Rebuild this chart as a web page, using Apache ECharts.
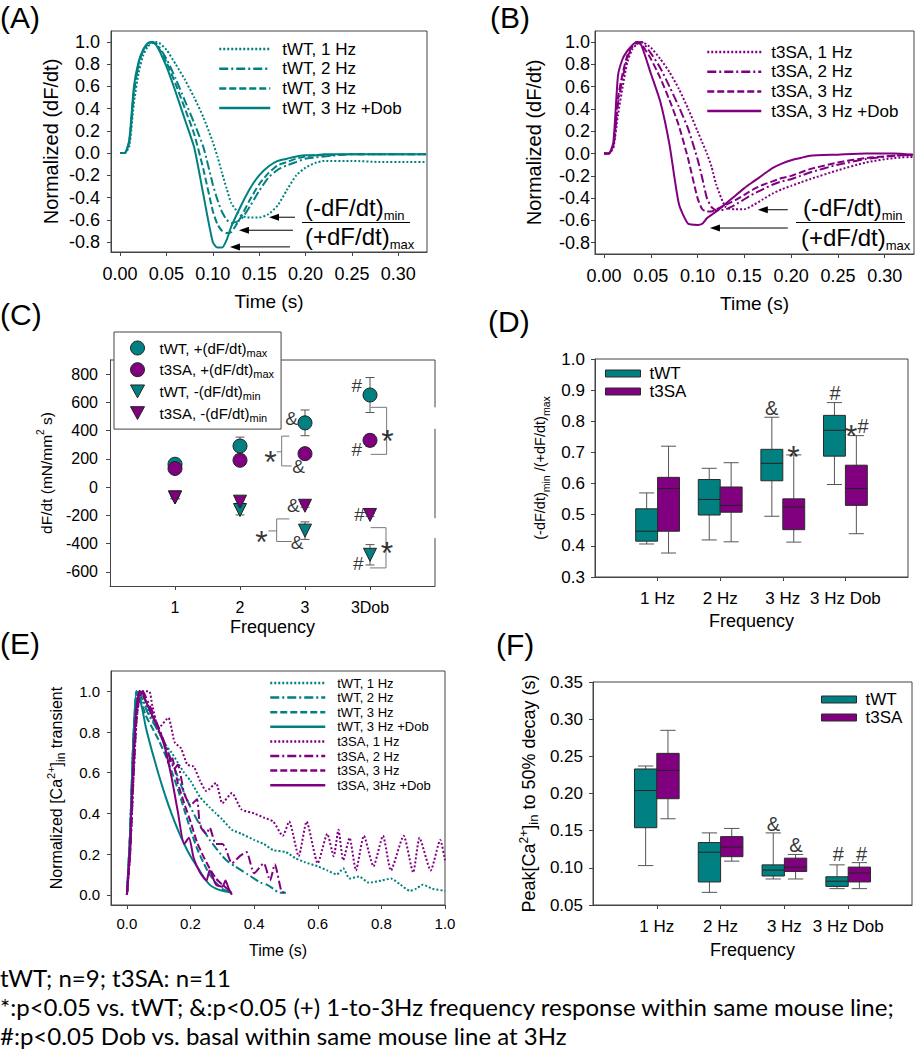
<!DOCTYPE html>
<html>
<head>
<meta charset="utf-8">
<script src="https://cdn.jsdelivr.net/npm/echarts@6/dist/echarts.min.js"></script>
<style>
html, body { margin: 0; padding: 0; background: #fff; }
#chart { width: 916px; height: 1050px; }
</style>
</head>
<body>
<div id="chart"></div>
<script>
// ---- data ----
// (A)/(B) normalized dF/dt, shared time base (s)
var tAB = [0, 0.005, 0.01, 0.015, 0.02, 0.025, 0.03, 0.035, 0.04, 0.05, 0.06, 0.07, 0.08, 0.09, 0.10, 0.105, 0.11, 0.115, 0.12, 0.13, 0.14, 0.15, 0.16, 0.17, 0.18, 0.19, 0.20, 0.21, 0.22, 0.25, 0.28, 0.31, 0.33];
var aWT1 = [0, 0, 0.06, 0.45, 0.72, 0.88, 0.96, 0.99, 1.0, 0.93, 0.80, 0.66, 0.50, 0.32, 0.10, -0.03, -0.18, -0.32, -0.45, -0.56, -0.58, -0.58, -0.55, -0.47, -0.33, -0.20, -0.13, -0.09, -0.07, -0.07, -0.08, -0.08, -0.08];
var aWT2 = [0, 0, 0.1, 0.55, 0.8, 0.92, 0.98, 1.0, 0.98, 0.85, 0.67, 0.47, 0.27, 0.05, -0.28, -0.42, -0.53, -0.60, -0.63, -0.60, -0.48, -0.34, -0.22, -0.15, -0.11, -0.08, -0.05, -0.04, -0.03, -0.01, -0.01, -0.01, -0.01];
var aWT3 = [0, 0, 0.1, 0.55, 0.8, 0.93, 0.98, 1.0, 0.97, 0.82, 0.62, 0.40, 0.17, -0.15, -0.52, -0.64, -0.70, -0.72, -0.71, -0.58, -0.42, -0.28, -0.18, -0.11, -0.08, -0.05, -0.03, -0.02, -0.02, -0.01, -0.01, -0.01, -0.01];
var aWTDob = [0, 0, 0.12, 0.6, 0.82, 0.93, 0.99, 1.0, 0.96, 0.78, 0.55, 0.30, 0.05, -0.38, -0.80, -0.85, -0.85, -0.78, -0.66, -0.48, -0.32, -0.20, -0.12, -0.07, -0.05, -0.03, -0.02, -0.02, -0.01, -0.01, -0.01, -0.01, -0.01];
var bSA1 = [0, 0, 0.05, 0.35, 0.6, 0.82, 0.93, 0.98, 1.0, 0.95, 0.85, 0.73, 0.58, 0.40, 0.20, 0.10, 0.0, -0.12, -0.28, -0.48, -0.50, -0.50, -0.46, -0.41, -0.36, -0.32, -0.29, -0.26, -0.23, -0.15, -0.08, -0.04, -0.03];
var bSA2 = [0, 0, 0.06, 0.45, 0.68, 0.86, 0.95, 0.99, 1.0, 0.9, 0.77, 0.6, 0.42, 0.22, -0.05, -0.22, -0.40, -0.48, -0.51, -0.50, -0.46, -0.41, -0.36, -0.32, -0.28, -0.25, -0.23, -0.20, -0.17, -0.10, -0.05, -0.02, -0.01];
var bSA3 = [0, 0, 0.07, 0.5, 0.72, 0.88, 0.96, 1.0, 0.98, 0.85, 0.68, 0.48, 0.25, -0.05, -0.40, -0.50, -0.52, -0.52, -0.50, -0.46, -0.42, -0.37, -0.32, -0.28, -0.25, -0.22, -0.20, -0.17, -0.14, -0.08, -0.04, -0.02, -0.01];
var bSADob = [0, 0, 0.1, 0.7, 0.85, 0.92, 0.97, 1.0, 0.97, 0.72, 0.47, 0.08, -0.45, -0.63, -0.64, -0.63, -0.58, -0.55, -0.52, -0.45, -0.38, -0.31, -0.25, -0.19, -0.13, -0.09, -0.06, -0.04, -0.02, -0.01, 0, 0, -0.01];
// arrows in A/B: [tail time, value, tip time]
var arrowsA = [[0.1886, -0.577, 0.1606], [0.1864, -0.694, 0.1282], [0.1832, -0.844, 0.1185]];
var arrowsB = [[0.1964, -0.504, 0.1644], [0.1964, -0.668, 0.1132]];

// (C) dF/dt vs frequency
var cLabels = ['1', '2', '3', '3Dob'];
var wtMax = [162, 291, 455, 652];
var wtMaxErr = [15, 63, 91, 124];
var saMax = [132, 190, 237, 331];
var saMaxErr = [12, 15, 20, 42];
var wtMin = [-73, -162, -308, -479];
var wtMinErr = [10, 35, 62, 72];
var saMin = [-73, -103, -132, -197];
var saMinErr = [8, 10, 10, 10];
var cNotes = [[2.795, 485, '&'], [2.47, 248, '*'], [2.90, 143, '&'], [2.82, -127, '&'], [2.33, -315, '*'], [2.88, -389, '&'],
  [3.795, 718, '#'], [4.27, 394, '*'], [3.795, 265, '#'], [3.84, -197, '#'], [4.26, -396, '*'], [3.82, -544, '#']];
var cBrackets = [
  [[2.76, 361], [2.641, 361], [2.641, 150], [2.795, 150]], [[2.564, 250], [2.641, 250]],
  [[2.76, -225], [2.564, -225], [2.564, -385], [2.795, -385]], [[2.436, -310], [2.564, -310]],
  [[4.01, 565], [4.256, 565], [4.256, 232], [4.01, 232]],
  [[4.01, -287], [4.246, -287], [4.246, -572], [4.0, -572]]
];
var cFrame = [[[0, 900], [5, 900]], [[5, 900], [5, 565]], [[5, 413], [5, -220]], [[5, -361], [5, -700]]];

// (D) ratio box plots: [min, q1, median, q3, max]
var boxLabels = ['1 Hz', '2 Hz', '3 Hz', '3 Hz Dob'];
var dWT = [[0.406, 0.415, 0.447, 0.519, 0.570], [0.419, 0.499, 0.549, 0.613, 0.649], [0.495, 0.609, 0.665, 0.710, 0.813], [0.597, 0.688, 0.771, 0.819, 0.860]];
var dSA = [[0.377, 0.447, 0.584, 0.620, 0.720], [0.413, 0.508, 0.530, 0.589, 0.667], [0.412, 0.452, 0.525, 0.551, 0.692], [0.439, 0.530, 0.584, 0.659, 0.754]];
var dNotes = [[2.824, 0.844, '&'], [3.169, 0.718, '*'], [3.834, 0.890, '#'], [4.094, 0.785, '*'], [4.281, 0.785, '#']];

// (E) normalized Ca transients, [time, value]
var eWT1 = [[0, 0], [0.01, 0.3], [0.02, 0.75], [0.03, 0.97], [0.04, 1.0], [0.05, 0.96], [0.07, 0.9], [0.10, 0.8], [0.12, 0.74], [0.14, 0.7], [0.16, 0.65], [0.18, 0.6], [0.20, 0.56], [0.23, 0.48], [0.26, 0.43], [0.28, 0.40], [0.30, 0.37], [0.33, 0.32], [0.36, 0.30], [0.40, 0.27], [0.43, 0.25], [0.46, 0.22], [0.50, 0.21], [0.53, 0.18], [0.56, 0.16], [0.60, 0.14], [0.63, 0.12], [0.66, 0.10], [0.68, 0.13], [0.70, 0.08], [0.73, 0.09], [0.76, 0.06], [0.80, 0.07], [0.83, 0.08], [0.86, 0.05], [0.89, 0.02], [0.91, 0.03], [0.93, 0.05], [0.96, 0.03], [1.0, 0.02]];
var eWT2 = [[0, 0], [0.01, 0.3], [0.02, 0.75], [0.03, 0.98], [0.04, 1.0], [0.05, 0.95], [0.07, 0.88], [0.10, 0.80], [0.12, 0.74], [0.14, 0.66], [0.16, 0.58], [0.18, 0.50], [0.20, 0.43], [0.22, 0.37], [0.24, 0.32], [0.26, 0.27], [0.28, 0.23], [0.30, 0.19], [0.32, 0.16], [0.34, 0.14], [0.36, 0.12], [0.38, 0.10], [0.40, 0.08], [0.42, 0.06], [0.44, 0.05], [0.46, 0.03], [0.48, 0.01], [0.50, 0.01]];
var eWT3 = [[0, 0], [0.01, 0.3], [0.02, 0.75], [0.03, 1.0], [0.04, 0.97], [0.06, 0.88], [0.08, 0.82], [0.10, 0.76], [0.12, 0.69], [0.14, 0.61], [0.16, 0.52], [0.18, 0.42], [0.20, 0.32], [0.22, 0.23], [0.24, 0.16], [0.26, 0.10], [0.28, 0.06], [0.30, 0.03], [0.33, 0.01]];
var eWTDob = [[0, 0], [0.01, 0.3], [0.02, 0.75], [0.03, 1.0], [0.04, 0.97], [0.05, 0.90], [0.06, 0.82], [0.08, 0.70], [0.10, 0.59], [0.12, 0.49], [0.14, 0.40], [0.16, 0.32], [0.18, 0.25], [0.20, 0.19], [0.22, 0.14], [0.24, 0.09], [0.26, 0.05], [0.28, 0.03], [0.30, 0.02], [0.33, 0.01]];
var eSA1 = [[0, 0], [0.01, 0.2], [0.02, 0.55], [0.03, 0.85], [0.04, 0.97], [0.05, 1.0], [0.07, 1.0], [0.08, 0.93], [0.10, 0.82], [0.13, 0.87], [0.15, 0.75], [0.17, 0.72], [0.19, 0.64], [0.21, 0.63], [0.23, 0.56], [0.25, 0.51], [0.28, 0.55], [0.30, 0.45], [0.33, 0.50], [0.36, 0.42], [0.40, 0.40], [0.43, 0.38], [0.46, 0.36], [0.49, 0.29], [0.51, 0.36], [0.54, 0.19], [0.565, 0.36], [0.60, 0.155], [0.63, 0.30], [0.65, 0.19], [0.665, 0.32], [0.68, 0.17], [0.70, 0.28], [0.72, 0.12], [0.745, 0.29], [0.775, 0.14], [0.805, 0.29], [0.83, 0.12], [0.87, 0.29], [0.90, 0.11], [0.92, 0.28], [0.955, 0.12], [0.985, 0.27], [1.0, 0.17]];
var eSA2 = [[0, 0], [0.01, 0.2], [0.02, 0.55], [0.03, 0.85], [0.04, 0.98], [0.05, 1.0], [0.06, 0.97], [0.08, 0.9], [0.10, 0.82], [0.12, 0.74], [0.14, 0.65], [0.15, 0.62], [0.16, 0.64], [0.18, 0.50], [0.20, 0.44], [0.22, 0.47], [0.23, 0.34], [0.25, 0.30], [0.26, 0.33], [0.28, 0.25], [0.30, 0.25], [0.31, 0.23], [0.33, 0.155], [0.355, 0.19], [0.376, 0.21], [0.40, 0.106], [0.43, 0.155], [0.45, 0.07], [0.465, 0.15], [0.486, 0.016], [0.50, 0.01]];
var eSA3 = [[0, 0], [0.01, 0.2], [0.02, 0.6], [0.03, 0.9], [0.04, 1.0], [0.05, 0.98], [0.06, 0.95], [0.08, 0.88], [0.10, 0.82], [0.12, 0.73], [0.13, 0.65], [0.14, 0.68], [0.16, 0.55], [0.18, 0.45], [0.20, 0.36], [0.22, 0.26], [0.24, 0.19], [0.26, 0.13], [0.28, 0.08], [0.30, 0.05], [0.33, 0.01]];
var eSADob = [[0, 0], [0.01, 0.25], [0.02, 0.65], [0.03, 0.92], [0.04, 1.0], [0.05, 0.99], [0.06, 0.95], [0.08, 0.88], [0.10, 0.81], [0.12, 0.72], [0.14, 0.58], [0.16, 0.41], [0.18, 0.25], [0.195, 0.28], [0.21, 0.18], [0.23, 0.11], [0.25, 0.07], [0.26, 0.12], [0.28, 0.05], [0.30, 0.04], [0.31, 0.07], [0.32, 0.03], [0.33, 0.0]];

// (F) peak to 50% decay box plots: [min, q1, median, q3, max]
var fWT = [[0.103, 0.154, 0.204, 0.233, 0.237], [0.067, 0.081, 0.121, 0.134, 0.147], [0.085, 0.089, 0.097, 0.104, 0.147], [0.072, 0.075, 0.082, 0.088, 0.104]];
var fSA = [[0.166, 0.193, 0.231, 0.254, 0.285], [0.109, 0.115, 0.128, 0.142, 0.153], [0.085, 0.095, 0.101, 0.113, 0.118], [0.072, 0.081, 0.093, 0.101, 0.107]];
var fNotes = [[2.826, 0.159, '&'], [3.18, 0.131, '&'], [3.845, 0.119, '#'], [4.21, 0.119, '#']];

// ---- styles ----
var FONT = 'Liberation Sans, Arial, sans-serif';
var TEAL = '#008080';
var PURPLE = '#800080';
var FRAME = '#444';
var DOT = [2, 2], DASHDOT = [9, 3, 2, 3], DASH = [7, 3];

var chart = echarts.init(document.getElementById('chart'), null, { renderer: 'svg' });

function pairs(xs, ys) {
  return xs.map(function (t, i) { return [t, ys[i]]; });
}
function curve(name, g, data, color, type, width) {
  return {
    name: name, type: 'line', xAxisIndex: g, yAxisIndex: g, data: data,
    symbol: 'none', smooth: 0.2, silent: true,
    lineStyle: { color: color, width: width || 2, type: type },
    itemStyle: { color: color }
  };
}
function plainName(n) { return n.split('|')[1]; }
function subName(n) { var p = n.split('|'); return p[1] + '{s|' + p[2] + '}'; }

function axis(o) {
  return {
    type: 'value', gridIndex: o.g, position: o.pos, min: o.min, max: o.max,
    axisLine: { show: true, onZero: false, lineStyle: { color: FRAME, width: 1 } },
    axisTick: { show: true, inside: false, length: 4, customValues: o.ticks, lineStyle: { color: FRAME } },
    axisLabel: { customValues: o.ticks, formatter: o.fmt, fontSize: o.fs, fontFamily: FONT, color: '#000', margin: o.margin },
    splitLine: { show: false },
    name: o.name, nameLocation: 'middle', nameGap: o.gap, nameRotate: o.rot || 0,
    nameTextStyle: Object.assign({ fontSize: o.nfs, fontFamily: FONT, color: '#000' }, o.nstyle || {})
  };
}
function fix(n) { return function (v) { return v.toFixed(n); }; }
function catFmt(list) { return function (v) { return list[Math.round(v) - 1]; }; }

function scriptRich(sub, sup) {
  return {
    s: { fontSize: sub, fontFamily: FONT, lineHeight: 12, verticalAlign: 'bottom', color: '#000' },
    p: { fontSize: sup, fontFamily: FONT, lineHeight: 12, verticalAlign: 'top', color: '#000' }
  };
}
var subRich = scriptRich(12, 11);

// box plot drawn through the axes
function boxRenderer(off) {
  return function (params, api) {
    var x = api.value(0) + off;
    var w = api.size([0.35, 0])[0];
    var c = api.size([0.24, 0])[0];
    var cx = api.coord([x, 0])[0];
    var yLo = api.coord([x, api.value(1)])[1];
    var yQ1 = api.coord([x, api.value(2)])[1];
    var yMd = api.coord([x, api.value(3)])[1];
    var yQ3 = api.coord([x, api.value(4)])[1];
    var yHi = api.coord([x, api.value(5)])[1];
    var ws = { stroke: '#555', lineWidth: 1 };
    return {
      type: 'group', children: [
        { type: 'line', shape: { x1: cx, y1: yHi, x2: cx, y2: yQ3 }, style: ws },
        { type: 'line', shape: { x1: cx - c / 2, y1: yHi, x2: cx + c / 2, y2: yHi }, style: ws },
        { type: 'line', shape: { x1: cx, y1: yQ1, x2: cx, y2: yLo }, style: ws },
        { type: 'line', shape: { x1: cx - c / 2, y1: yLo, x2: cx + c / 2, y2: yLo }, style: ws },
        { type: 'rect', shape: { x: cx - w / 2, y: yQ3, width: w, height: yQ1 - yQ3 }, style: { fill: api.visual('color'), stroke: '#2a2a2a', lineWidth: 1 } },
        { type: 'line', shape: { x1: cx - w / 2, y1: yMd, x2: cx + w / 2, y2: yMd }, style: { stroke: '#222', lineWidth: 1 } }
      ]
    };
  };
}
function boxSeries(name, g, stats, color, off) {
  return {
    name: name, type: 'custom', xAxisIndex: g, yAxisIndex: g, silent: true, z: 2,
    itemStyle: { color: color, borderColor: '#2a2a2a', borderWidth: 1 },
    renderItem: boxRenderer(off),
    data: stats.map(function (s, i) { return [i + 1].concat(s); })
  };
}
function errSeries(g, vals, errs) {
  return {
    type: 'custom', xAxisIndex: g, yAxisIndex: g, silent: true, z: 2,
    renderItem: function (params, api) {
      var x = api.value(0), y = api.value(1), e = api.value(2);
      var top = api.coord([x, y + e]), bot = api.coord([x, y - e]);
      var st = { stroke: '#555', lineWidth: 1 };
      return {
        type: 'group', children: [
          { type: 'line', shape: { x1: top[0], y1: top[1], x2: bot[0], y2: bot[1] }, style: st },
          { type: 'line', shape: { x1: top[0] - 4.5, y1: top[1], x2: top[0] + 4.5, y2: top[1] }, style: st },
          { type: 'line', shape: { x1: bot[0] - 4.5, y1: bot[1], x2: bot[0] + 4.5, y2: bot[1] }, style: st }
        ]
      };
    },
    data: vals.map(function (v, i) { return [i + 1, v, errs[i]]; })
  };
}
function polySeries(g, list, color, z) {
  return {
    type: 'custom', xAxisIndex: g, yAxisIndex: g, silent: true, z: z,
    renderItem: function (params, api) {
      var pts = list[params.dataIndex].map(function (p) { return api.coord(p); });
      return { type: 'polyline', shape: { points: pts }, style: { stroke: color, lineWidth: 1, fill: null } };
    },
    data: list.map(function (p, i) { return [i]; })
  };
}
function arrowSeries(g, list) {
  return {
    type: 'custom', xAxisIndex: g, yAxisIndex: g, silent: true, z: 5,
    renderItem: function (params, api) {
      var tail = api.coord([api.value(0), api.value(1)]);
      var tip = api.coord([api.value(2), api.value(1)]);
      return {
        type: 'group', children: [
          { type: 'line', shape: { x1: tail[0], y1: tail[1], x2: tip[0] + 6, y2: tip[1] }, style: { stroke: '#000', lineWidth: 1 } },
          { type: 'polygon', shape: { points: [[tip[0], tip[1]], [tip[0] + 10, tip[1] - 3.5], [tip[0] + 10, tip[1] + 3.5]] }, style: { fill: '#000' } }
        ]
      };
    },
    data: list
  };
}
function noteSeries(g, list, size) {
  return {
    type: 'scatter', xAxisIndex: g, yAxisIndex: g, silent: true, z: 6,
    symbol: 'circle', symbolSize: 1, itemStyle: { color: 'rgba(0,0,0,0)' },
    label: { show: true, position: 'inside', formatter: '{b}', fontSize: size, fontFamily: FONT, color: '#000' },
    data: list.map(function (n) {
      var star = n[2] === '*';
      return {
        value: [n[0], n[1]], name: n[2],
        label: star ? { fontSize: 32, offset: [0, 10] } : {}
      };
    })
  };
}
function markSeries(name, g, vals, color, tri) {
  return {
    name: name, type: 'scatter', xAxisIndex: g, yAxisIndex: g, silent: true, z: 3,
    symbol: tri ? 'triangle' : 'circle', symbolRotate: tri ? 180 : 0, symbolSize: tri ? 13 : 14,
    itemStyle: { color: color, borderColor: '#222', borderWidth: 1, opacity: 1 },
    data: vals.map(function (v, i) { return [i + 1, v]; })
  };
}

var grids = [
  { left: 111, top: 31, width: 316, height: 221 },
  { left: 595, top: 31, width: 319, height: 223 },
  { left: 110, top: 360, width: 325, height: 226 },
  { left: 595, top: 359, width: 313, height: 218 },
  { left: 111, top: 671, width: 334, height: 234 },
  { left: 593, top: 682, width: 319, height: 223 }
].map(function (g, i) {
  return Object.assign(g, { show: i !== 2, borderColor: FRAME, borderWidth: 1, backgroundColor: 'transparent' });
});

var tAxisTicks = [0, 0.05, 0.1, 0.15, 0.2, 0.25, 0.3];
var nAxisTicks = [-0.8, -0.6, -0.4, -0.2, 0, 0.2, 0.4, 0.6, 0.8, 1.0];
var catTicks = [1, 2, 3, 4];

var xAxes = [
  axis({ g: 0, pos: 'bottom', min: -0.0097, max: 0.3309, ticks: tAxisTicks, fmt: fix(2), fs: 18, margin: 13, name: 'Time (s)', gap: 40, nfs: 19 }),
  axis({ g: 1, pos: 'bottom', min: -0.0096, max: 0.3313, ticks: tAxisTicks, fmt: fix(2), fs: 18, margin: 13, name: 'Time (s)', gap: 40, nfs: 19 }),
  axis({ g: 2, pos: 'bottom', min: 0, max: 5, ticks: catTicks, fmt: catFmt(cLabels), fs: 16, margin: 13, name: 'Frequency', gap: 32, nfs: 18 }),
  axis({ g: 3, pos: 'bottom', min: 0, max: 5, ticks: catTicks, fmt: catFmt(boxLabels), fs: 17, margin: 13, name: 'Frequency', gap: 35, nfs: 18 }),
  axis({ g: 4, pos: 'bottom', min: -0.05, max: 1.0, ticks: [0, 0.2, 0.4, 0.6, 0.8, 1.0], fmt: fix(1), fs: 15, margin: 11, name: 'Time (s)', gap: 37, nfs: 16 }),
  axis({ g: 5, pos: 'bottom', min: 0, max: 5, ticks: catTicks, fmt: catFmt(boxLabels), fs: 17, margin: 13, name: 'Frequency', gap: 36, nfs: 18 })
];
var yAxes = [
  axis({ g: 0, pos: 'left', min: -0.89, max: 1.099, ticks: nAxisTicks, fmt: fix(1), fs: 18, margin: 11, name: 'Normalized (dF/dt)', gap: 50, rot: 90, nfs: 20 }),
  axis({ g: 1, pos: 'left', min: -0.9009, max: 1.0987, ticks: nAxisTicks, fmt: fix(1), fs: 18, margin: 5, name: 'Normalized (dF/dt)', gap: 51, rot: 90, nfs: 20 }),
  axis({ g: 2, pos: 'left', min: -700, max: 900, ticks: [-600, -400, -200, 0, 200, 400, 600, 800], fmt: function (v) { return String(v); }, fs: 16, margin: 12,
    name: 'dF/dt (mN/mm{p|2} s)', gap: 53, rot: 90, nfs: 15.5, nstyle: { lineHeight: 22, rich: scriptRich(11, 10) } }),
  axis({ g: 3, pos: 'left', min: 0.3, max: 1.0, ticks: [0.3, 0.4, 0.5, 0.6, 0.7, 0.8, 0.9, 1.0], fmt: fix(1), fs: 17, margin: 10,
    name: '(-dF/dt){s|min} /(+dF/dt){s|max}', gap: 44, rot: 90, nfs: 14.5, nstyle: { lineHeight: 22, rich: scriptRich(10.5, 10) } }),
  axis({ g: 4, pos: 'left', min: -0.05, max: 1.1, ticks: [0, 0.2, 0.4, 0.6, 0.8, 1.0], fmt: fix(1), fs: 15, margin: 11,
    name: 'Normalized [Ca{p|2+}]{s|in} transient', gap: 44, rot: 90, nfs: 16, nstyle: { lineHeight: 22, rich: subRich } }),
  axis({ g: 5, pos: 'left', min: 0.05, max: 0.35, ticks: [0.05, 0.1, 0.15, 0.2, 0.25, 0.3, 0.35], fmt: fix(2), fs: 17, margin: 10,
    name: 'Peak[Ca{p|2+}]{s|in} to 50% decay (s)', gap: 53, rot: 90, nfs: 18, nstyle: { lineHeight: 22, rich: scriptRich(13, 12) } })
];

var series = [
  curve('A|tWT, 1 Hz', 0, pairs(tAB, aWT1), TEAL, DOT),
  curve('A|tWT, 2 Hz', 0, pairs(tAB, aWT2), TEAL, DASHDOT),
  curve('A|tWT, 3 Hz', 0, pairs(tAB, aWT3), TEAL, DASH),
  curve('A|tWT, 3 Hz +Dob', 0, pairs(tAB, aWTDob), TEAL, 'solid'),
  arrowSeries(0, arrowsA),
  curve('B|t3SA, 1 Hz', 1, pairs(tAB, bSA1), PURPLE, DOT),
  curve('B|t3SA, 2 Hz', 1, pairs(tAB, bSA2), PURPLE, DASHDOT),
  curve('B|t3SA, 3 Hz', 1, pairs(tAB, bSA3), PURPLE, DASH),
  curve('B|t3SA, 3 Hz +Dob', 1, pairs(tAB, bSADob), PURPLE, 'solid'),
  arrowSeries(1, arrowsB),
  polySeries(2, cFrame, FRAME, 1),
  polySeries(2, cBrackets, '#777', 2),
  errSeries(2, wtMax, wtMaxErr),
  errSeries(2, saMax, saMaxErr),
  errSeries(2, wtMin, wtMinErr),
  errSeries(2, saMin, saMinErr),
  markSeries('C|tWT, +(dF/dt)|max', 2, wtMax, TEAL, false),
  markSeries('C|t3SA, +(dF/dt)|max', 2, saMax, PURPLE, false),
  markSeries('C|tWT, -(dF/dt)|min', 2, wtMin, TEAL, true),
  markSeries('C|t3SA, -(dF/dt)|min', 2, saMin, PURPLE, true),
  noteSeries(2, cNotes, 19),
  boxSeries('D|tWT', 3, dWT, TEAL, -0.175),
  boxSeries('D|t3SA', 3, dSA, PURPLE, 0.175),
  noteSeries(3, dNotes, 20),
  curve('E|tWT, 1 Hz', 4, eWT1, TEAL, DOT),
  curve('E|tWT, 2 Hz', 4, eWT2, TEAL, DASHDOT),
  curve('E|tWT, 3 Hz', 4, eWT3, TEAL, DASH),
  curve('E|tWT, 3 Hz +Dob', 4, eWTDob, TEAL, 'solid'),
  curve('E|t3SA, 1 Hz', 4, eSA1, PURPLE, DOT),
  curve('E|t3SA, 2 Hz', 4, eSA2, PURPLE, DASHDOT),
  curve('E|t3SA, 3 Hz', 4, eSA3, PURPLE, DASH),
  curve('E|t3SA, 3Hz +Dob', 4, eSADob, PURPLE, 'solid'),
  boxSeries('F|tWT', 5, fWT, TEAL, -0.175),
  boxSeries('F|t3SA', 5, fSA, PURPLE, 0.175),
  noteSeries(5, fNotes, 20)
];

function lineLegend(prefix, names, left, top, iw, fs, lh, gap, pad) {
  return {
    data: names.map(function (n) { return prefix + '|' + n; }),
    orient: 'vertical', left: left, top: top, padding: 0,
    itemWidth: iw, itemHeight: 10, itemGap: gap, selectedMode: false,
    itemStyle: { opacity: 0 },
    lineStyle: { width: 2.5 },
    formatter: plainName,
    textStyle: { fontSize: fs, lineHeight: lh, fontFamily: FONT, color: '#000', padding: [0, 0, 0, pad] }
  };
}
function boxLegend(prefix, left, top) {
  return {
    data: [prefix + '|tWT', prefix + '|t3SA'].map(function (n) { return { name: n, icon: 'rect' }; }),
    orient: 'vertical', left: left, top: top, padding: 0,
    itemWidth: 35, itemHeight: 7, itemGap: 1, selectedMode: false,
    itemStyle: { borderColor: '#2a2a2a', borderWidth: 1 },
    formatter: plainName,
    textStyle: { fontSize: 17, lineHeight: 17, fontFamily: FONT, color: '#000', padding: [0, 0, 0, 4] }
  };
}
var triIcon = 'path://M0,0L12,0L6,11Z';

var legends = [
  lineLegend('A', ['tWT, 1 Hz', 'tWT, 2 Hz', 'tWT, 3 Hz', 'tWT, 3 Hz +Dob'], 218, 40, 51, 17, 18, 1.7, 7),
  lineLegend('B', ['t3SA, 1 Hz', 't3SA, 2 Hz', 't3SA, 3 Hz', 't3SA, 3 Hz +Dob'], 706, 43, 54, 17, 18, 1.7, 5),
  {
    data: [
      { name: 'C|tWT, +(dF/dt)|max', icon: 'circle' },
      { name: 'C|t3SA, +(dF/dt)|max', icon: 'circle' },
      { name: 'C|tWT, -(dF/dt)|min', icon: triIcon },
      { name: 'C|t3SA, -(dF/dt)|min', icon: triIcon }
    ],
    orient: 'vertical', left: 114, top: 332, padding: [6, 7, 6, 16],
    backgroundColor: '#fff', borderColor: FRAME, borderWidth: 1, z: 10,
    itemWidth: 14, itemHeight: 14, itemGap: 1.7, selectedMode: false,
    itemStyle: { borderColor: '#222', borderWidth: 1 },
    formatter: subName,
    textStyle: { fontSize: 15, lineHeight: 20, fontFamily: FONT, color: '#000', padding: [0, 0, 0, 10], rich: scriptRich(11, 10) }
  },
  boxLegend('D', 605, 365),
  lineLegend('E', ['tWT, 1 Hz', 'tWT, 2 Hz', 'tWT, 3 Hz', 'tWT, 3 Hz +Dob', 't3SA, 1 Hz', 't3SA, 2 Hz', 't3SA, 3 Hz', 't3SA, 3Hz +Dob'], 269, 676, 55, 13, 14, 0.6, 7),
  boxLegend('F', 821, 691)
];

// bottom note lines, fitted to the page width like the original caption
var notes = [
  'tWT; n=9; t3SA: n=11',
  '*:p<0.05 vs. tWT; &:p<0.05 (+) 1-to-3Hz frequency response within same mouse line;',
  '#:p<0.05 Dob vs. basal within same mouse line at 3Hz'
];
var NOTE_FONT = 'Lato, Open Sans, sans-serif';
var ctx = document.createElement('canvas').getContext('2d');
ctx.font = '100px ' + NOTE_FONT;
var noteSize = Math.min(24, 100 * 912 / ctx.measureText(notes[1]).width);

function txt(text, x, y, size, extra) {
  return {
    type: 'text', x: x, y: y, silent: true, z: 20,
    style: Object.assign({ text: text, fontSize: size, fontFamily: FONT, fill: '#000', verticalAlign: 'middle', align: 'left' }, extra || {})
  };
}
var fracRich = {
  m: { fontSize: 24, fontFamily: FONT, lineHeight: 30, fill: '#000' },
  s: { fontSize: 13, fontFamily: FONT, lineHeight: 14, verticalAlign: 'bottom', fill: '#000' }
};
var graphics = [
  txt('(A)', 0, 17, 30), txt('(B)', 490, 17, 30), txt('(C)', 0, 314, 30),
  txt('(D)', 488, 321, 30), txt('(E)', 0, 643, 30), txt('(F)', 496, 644, 30),
  txt('{m|(-dF/dt)}{s|min}', 305, 207, 24, { rich: fracRich }),
  txt('{m|(+dF/dt)}{s|max}', 305, 236, 24, { rich: fracRich }),
  { type: 'line', z: 20, silent: true, shape: { x1: 302, y1: 222.5, x2: 410, y2: 222.5 }, style: { stroke: '#000', lineWidth: 1 } },
  txt('{m|(-dF/dt)}{s|min}', 803, 207, 24, { rich: fracRich }),
  txt('{m|(+dF/dt)}{s|max}', 801, 237, 24, { rich: fracRich }),
  { type: 'line', z: 20, silent: true, shape: { x1: 796, y1: 222.5, x2: 905, y2: 222.5 }, style: { stroke: '#000', lineWidth: 1 } },
  txt(notes[0], 0, 977, noteSize, { fontFamily: NOTE_FONT }),
  txt(notes[1], 0, 1006, noteSize, { fontFamily: NOTE_FONT }),
  txt(notes[2], 0, 1035, noteSize, { fontFamily: NOTE_FONT })
];

chart.setOption({
  animation: false,
  backgroundColor: '#fff',
  textStyle: { fontFamily: FONT },
  grid: grids,
  xAxis: xAxes,
  yAxis: yAxes,
  legend: legends,
  series: series,
  graphic: graphics
});
</script>
</body>
</html>
